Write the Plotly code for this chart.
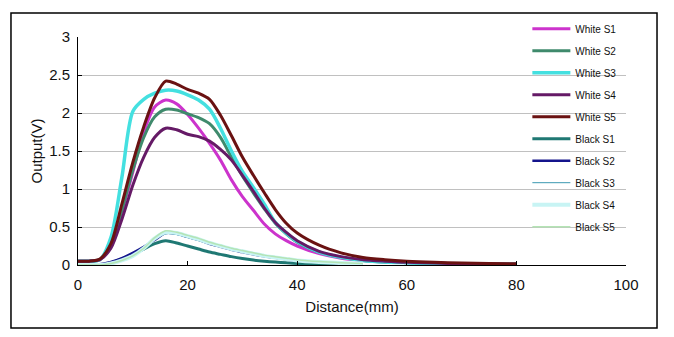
import plotly.graph_objects as go

distance = [0, 2, 4, 6, 8, 10, 12, 14, 16, 18, 20, 22, 24, 26, 28, 30, 32, 34, 36, 38,
            40, 44, 48, 52, 56, 60, 65, 70, 75, 80]

white_s1 = [0.05, 0.05, 0.07, 0.25, 0.70, 1.22, 1.75, 2.08, 2.17, 2.12, 1.98, 1.80, 1.60, 1.38, 1.12, 0.90, 0.72, 0.54, 0.41, 0.32,
            0.25, 0.15, 0.09, 0.06, 0.04, 0.03, 0.02, 0.015, 0.01, 0.01]
white_s2 = [0.05, 0.05, 0.07, 0.27, 0.72, 1.25, 1.68, 1.95, 2.05, 2.04, 1.99, 1.94, 1.86, 1.68, 1.42, 1.17, 0.95, 0.74, 0.55, 0.41,
            0.30, 0.17, 0.10, 0.06, 0.04, 0.03, 0.02, 0.015, 0.01, 0.01]
white_s3 = [0.05, 0.05, 0.07, 0.36, 1.15, 2.02, 2.18, 2.26, 2.30, 2.29, 2.24, 2.17, 2.05, 1.80, 1.50, 1.23, 1.02, 0.80, 0.56, 0.42,
            0.31, 0.17, 0.10, 0.06, 0.04, 0.03, 0.02, 0.015, 0.01, 0.01]
white_s4 = [0.05, 0.05, 0.07, 0.22, 0.60, 1.05, 1.42, 1.68, 1.80, 1.78, 1.72, 1.69, 1.63, 1.52, 1.38, 1.18, 0.97, 0.75, 0.56, 0.43,
            0.32, 0.18, 0.11, 0.07, 0.05, 0.035, 0.025, 0.018, 0.012, 0.01]
white_s5 = [0.05, 0.05, 0.08, 0.28, 0.80, 1.35, 1.82, 2.20, 2.42, 2.38, 2.31, 2.26, 2.18, 1.97, 1.70, 1.42, 1.18, 0.95, 0.73, 0.55,
            0.42, 0.26, 0.16, 0.10, 0.07, 0.05, 0.035, 0.025, 0.02, 0.015]

black_distance = [0, 2, 4, 6, 8, 10, 12, 14, 16, 18, 20, 22, 24, 26, 28, 30, 32, 34, 36, 38, 40, 44, 48, 52]
black_s1 = [0.0, 0.0, 0.0, 0.03, 0.08, 0.14, 0.21, 0.28, 0.32, 0.29, 0.25, 0.21, 0.17, 0.14, 0.11, 0.085, 0.065, 0.05, 0.038, 0.028, 0.02, 0.01, 0.005, 0.0]
black_s2 = [0.0, 0.0, 0.01, 0.04, 0.09, 0.16, 0.24, 0.33, 0.42, 0.41, 0.37, 0.33, 0.28, 0.24, 0.20, 0.17, 0.14, 0.115, 0.095, 0.075, 0.058, 0.038, 0.023, 0.013]
black_s3 = [0.0, 0.0, 0.0, 0.02, 0.06, 0.12, 0.21, 0.33, 0.41, 0.40, 0.36, 0.32, 0.28, 0.24, 0.20, 0.17, 0.14, 0.11, 0.09, 0.07, 0.055, 0.035, 0.02, 0.01]
black_s4 = [0.0, 0.0, 0.0, 0.02, 0.06, 0.12, 0.22, 0.35, 0.43, 0.42, 0.38, 0.34, 0.29, 0.25, 0.21, 0.18, 0.15, 0.12, 0.10, 0.08, 0.06, 0.04, 0.025, 0.015]
black_s5 = [0.0, 0.0, 0.0, 0.02, 0.06, 0.12, 0.22, 0.36, 0.45, 0.43, 0.39, 0.35, 0.30, 0.26, 0.22, 0.19, 0.16, 0.13, 0.11, 0.09, 0.07, 0.045, 0.03, 0.02]

x_ticks = [0, 20, 40, 60, 80, 100]
y_ticks = [0, 0.5, 1, 1.5, 2, 2.5, 3]

series = [
    ("White S1", distance, white_s1, "#cc33cc", 3),
    ("White S2", distance, white_s2, "#3f8a6c", 3),
    ("White S3", distance, white_s3, "#44e0e0", 3.5),
    ("White S4", distance, white_s4, "#651a66", 3),
    ("White S5", distance, white_s5, "#6a1212", 3),
    ("Black S1", black_distance, black_s1, "#1f7873", 3),
    ("Black S2", black_distance, black_s2, "#14148c", 2.5),
    ("Black S3", black_distance, black_s3, "#3a98b0", 1),
    ("Black S4", black_distance, black_s4, "#c8f4f4", 4),
    ("Black S5", black_distance, black_s5, "#b4e4b4", 1.5),
]

fig = go.Figure()
for name, xs, ys, color, w in series:
    fig.add_trace(go.Scatter(
        x=xs, y=ys, name=name, mode="lines", legendgroup=name,
        line=dict(color=color, width=w, shape="spline", smoothing=0.8),
    ))

font_family = "Liberation Sans, Arial, sans-serif"

fig.update_layout(
    width=674, height=337,
    margin=dict(l=78, r=48, t=37, b=72),
    paper_bgcolor="white", plot_bgcolor="white",
    font=dict(family=font_family, color="#111111"),
    showlegend=True,
    legend=dict(
        x=0.82, y=1.10, xanchor="left", yanchor="top",
        bgcolor="rgba(0,0,0,0)", font=dict(size=10, family=font_family),
        tracegroupgap=3, itemwidth=38, maxheight=330,
    ),
    xaxis=dict(
        range=[0, 100], tickvals=x_ticks, ticks="inside", ticklen=4,
        tickcolor="black", showline=True, linecolor="black", linewidth=1,
        showgrid=False, zeroline=False, tickfont=dict(size=15),
        ticklabelstandoff=6,
        title=dict(text="Distance(mm)", font=dict(size=15), standoff=9),
    ),
    yaxis=dict(
        range=[0, 3], tickvals=y_ticks, ticks="inside", ticklen=4,
        tickcolor="black", showline=True, linecolor="black", linewidth=1,
        showgrid=True, gridcolor="#c0c0c0", gridwidth=1, zeroline=False,
        tickfont=dict(size=15), ticklabelstandoff=4,
        title=dict(text="Output(V)", font=dict(size=15), standoff=2),
    ),
    shapes=[dict(type="rect", xref="paper", yref="paper",
                 x0=-0.1223, x1=1.0566, y0=-0.276, y1=1.105,
                 line=dict(color="black", width=1.5))],
)

fig.write_html("out.html")
